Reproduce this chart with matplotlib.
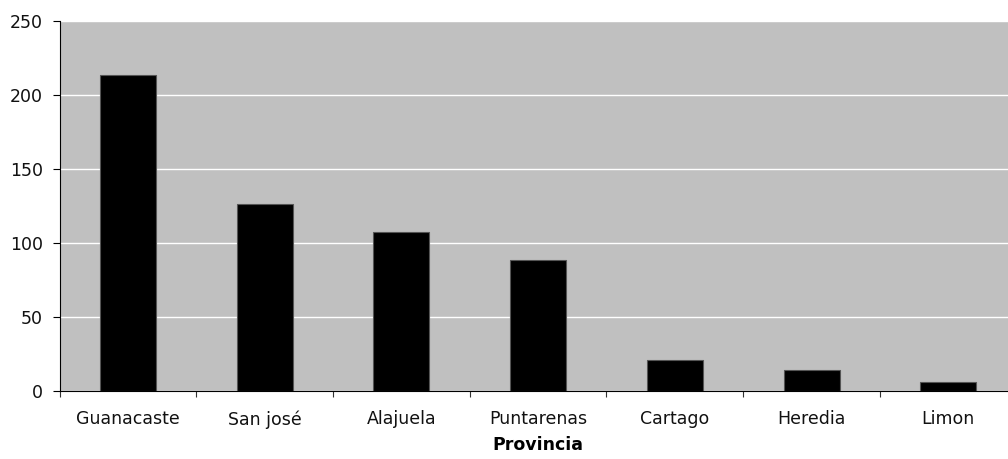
import matplotlib
matplotlib.use("Agg")
import matplotlib.pyplot as plt
import numpy as np

provincias = ["Guanacaste", "San josé", "Alajuela", "Puntarenas", "Cartago", "Heredia", "Limon"]
valores = [213, 126, 107, 88, 21, 14, 6]
y_ticks = [0, 50, 100, 150, 200, 250]

plt.rcParams['font.family'] = ['DejaVu Sans']

fig = plt.figure(figsize=(10.08, 4.59), dpi=100)
W, H = 1008, 459
left, right, top, bottom = 59.5, 1016.7, 20.5, 390.7
ax = fig.add_axes([left / W, 1 - bottom / H, (right - left) / W, (bottom - top) / H])
ax.set_facecolor("#c0c0c0")

x = np.arange(len(provincias))
ax.bar(x, valores, width=0.41, color="black", edgecolor="#555555", linewidth=0.8, zorder=3)

ax.set_xlim(-0.5, len(provincias) - 0.5)
ax.set_ylim(0, 250)
ax.set_yticks(y_ticks)
ax.yaxis.grid(True, color="white", linewidth=1.0, zorder=1)
ax.set_axisbelow(True)

# category labels centered, tick marks at category boundaries
ax.set_xticks(x)
ax.set_xticklabels(provincias, fontsize=12.5, color="#111111")
ax.tick_params(axis="x", which="major", length=0, pad=14)
ax.set_xticks(np.arange(len(provincias)) - 0.5, minor=True)
ax.tick_params(axis="x", which="minor", length=4.5, width=0.8, color="#333333")
ax.tick_params(axis="y", length=4.8, width=0.8, labelsize=12.5, pad=7, labelcolor="#111111")

for s in ["top", "right"]:
    ax.spines[s].set_visible(False)
ax.spines["left"].set_linewidth(0.8)
ax.spines["bottom"].set_linewidth(0.8)

ax.set_xlabel("Provincia", fontsize=12.5, fontweight="bold", labelpad=5)

fig.savefig("out.png", dpi=100)
